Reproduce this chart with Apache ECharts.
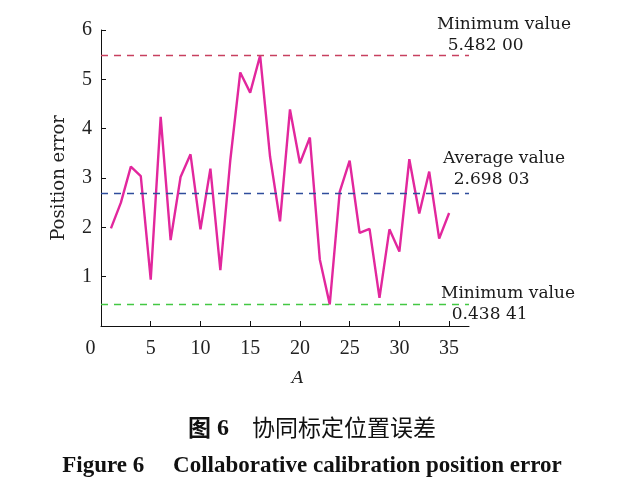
<!DOCTYPE html>
<html>
<head>
<meta charset="utf-8">
<script src="https://cdn.jsdelivr.net/npm/echarts@6/dist/echarts.min.js"></script>
<style>
  html, body { margin: 0; padding: 0; background: #fff; }
  #chart { width: 624px; height: 494px; }
</style>
</head>
<body>
<div id="chart"></div>
<script>
// ---- data ----
const sampleIndex = [1, 2, 3, 4, 5, 6, 7, 8, 9, 10, 11, 12, 13, 14, 15, 16, 17, 18,
  19, 20, 21, 22, 23, 24, 25, 26, 27, 28, 29, 30, 31, 32, 33, 34, 35];
const positionError = [1.98, 2.50, 3.23, 3.04, 0.94, 4.24, 1.74, 3.02, 3.48, 1.96,
  3.19, 1.13, 3.36, 5.14, 4.73, 5.482, 3.43, 2.12, 4.39, 3.30, 3.82, 1.35, 0.43841,
  2.72, 3.35, 1.89, 1.97, 0.57, 1.96, 1.51, 3.38, 2.28, 3.13, 1.77, 2.29];
const refNames = ['Minimum value', 'Average value', 'Minimum value'];
const refValues = [5.482, 2.69803, 0.43841];
const xTickValues = [0, 5, 10, 15, 20, 25, 30, 35];
const yTickValues = [1, 2, 3, 4, 5, 6];

function fmt(v) {
  const s = v.toFixed(5);
  return s.slice(0, -2) + ' ' + s.slice(-2);
}

const wordFont = 'DejaVu Serif';
const numFont = 'Liberation Serif';
const refColors = ['#c8405f', '#2f4d9c', '#43c843'];
const refLabelPos = ['insideEndTop', 'insideEndTop', 'insideEnd'];
const refLabelDist = [[32, 0], [26, 3], [28, 0]];

const chart = echarts.init(document.getElementById('chart'), null, { renderer: 'canvas' });

const option = {
  animation: false,
  backgroundColor: '#ffffff',
  title: [
    {
      left: 'center',
      top: 414,
      padding: 0,
      text: '{a|图}{n| 6}{b|\u3000协同标定位置误差}',
      textStyle: {
        rich: {
          a: { fontFamily: 'Noto Sans CJK SC', fontWeight: 'bold', fontSize: 23, color: '#111' },
          n: { fontFamily: 'Liberation Serif', fontWeight: 'bold', fontSize: 24, color: '#111', padding: [3, 0, 0, 0] },
          b: { fontFamily: 'Noto Sans CJK SC', fontWeight: 'normal', fontSize: 23, color: '#111' }
        }
      }
    },
    {
      left: 'center',
      top: 455,
      padding: 0,
      text: 'Figure 6     Collaborative calibration position error',
      textStyle: { fontFamily: 'Liberation Serif', fontWeight: 'bold', fontSize: 23, color: '#111' }
    }
  ],
  grid: { left: 101, right: 155, top: 30, bottom: 168, containLabel: false },
  xAxis: {
    type: 'value',
    min: 0,
    max: 37,
    name: 'A',
    nameLocation: 'middle',
    nameGap: 44,
    nameTextStyle: { fontFamily: wordFont, fontStyle: 'italic', fontSize: 17, color: '#222', padding: [0, 0, 0, 26] },
    splitLine: { show: false },
    axisLine: { lineStyle: { color: '#111', width: 1 } },
    axisTick: { inside: true, length: 5, customValues: xTickValues, lineStyle: { color: '#111' } },
    axisLabel: {
      customValues: xTickValues,
      margin: 13,
      fontFamily: numFont,
      fontSize: 20,
      color: '#222',
      formatter: function (v) { return v === 0 ? '{z|0}' : String(v); },
      rich: { z: { fontFamily: numFont, fontSize: 20, color: '#222', padding: [0, 21, 0, 0] } }
    }
  },
  yAxis: {
    type: 'value',
    min: 0,
    max: 6,
    interval: 1,
    name: 'Position error',
    nameLocation: 'middle',
    nameRotate: 90,
    nameGap: 33,
    nameTextStyle: { fontFamily: wordFont, fontSize: 18, color: '#222' },
    splitLine: { show: false },
    axisLine: { show: true, lineStyle: { color: '#111', width: 1 } },
    axisTick: { show: true, inside: true, length: 5, customValues: yTickValues, lineStyle: { color: '#111' } },
    axisLabel: {
      customValues: yTickValues,
      margin: 9,
      fontFamily: numFont,
      fontSize: 20,
      color: '#222'
    }
  },
  series: [
    {
      type: 'line',
      data: sampleIndex.map(function (x, i) { return [x, positionError[i]]; }),
      showSymbol: false,
      symbol: 'none',
      lineStyle: { color: '#e2279d', width: 2.4 },
      z: 3,
      markLine: {
        silent: true,
        symbol: ['none', 'none'],
        animation: false,
        data: refValues.map(function (v, i) {
          return {
            yAxis: v,
            lineStyle: { color: refColors[i], type: [7, 6], width: 1.3 },
            label: {
              show: true,
              position: refLabelPos[i],
              distance: refLabelDist[i],
              align: 'left',
              formatter: refNames[i] + '\n  ' + fmt(v),
              fontFamily: wordFont,
              fontSize: 17,
              lineHeight: 21,
              color: '#1a1a1a'
            }
          };
        })
      }
    }
  ]
};

chart.setOption(option);
</script>
</body>
</html>
